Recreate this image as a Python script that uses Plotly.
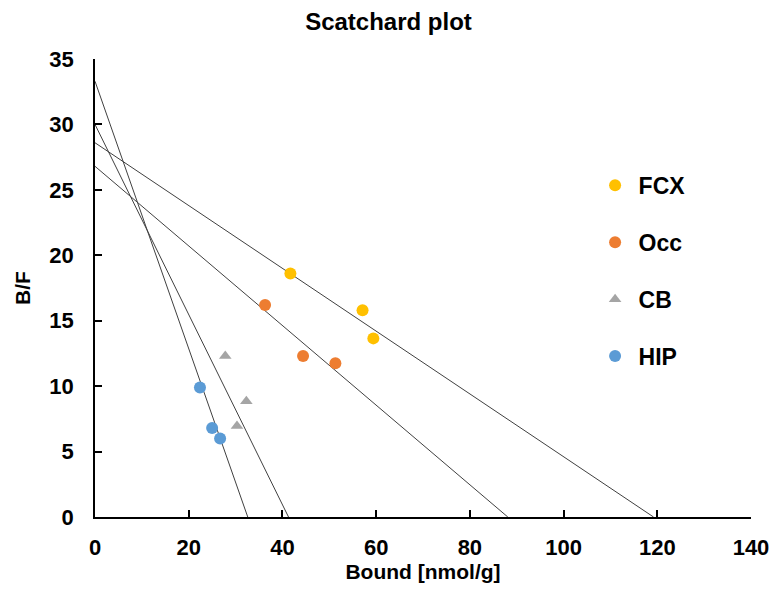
import plotly.graph_objects as go

series_names = ["FCX", "Occ", "CB", "HIP"]
series_colors = ["#FFC000", "#ED7D31", "#A5A5A5", "#5B9BD5"]
series_symbols = ["circle", "circle", "triangle-up", "circle"]

fcx_bound = [41.7, 57.1, 59.4]
fcx_bf = [18.6, 15.8, 13.65]
occ_bound = [36.3, 44.4, 51.3]
occ_bf = [16.2, 12.3, 11.75]
cb_bound = [27.8, 32.3, 30.3]
cb_bf = [12.3, 8.85, 6.95]
hip_bound = [22.4, 25.0, 26.7]
hip_bf = [9.9, 6.8, 6.0]

# regression lines: y-intercept (B/F at Bound=0) and x-intercept (Bmax)
line_y_intercepts = [28.6, 26.8, 30.0, 33.3]
line_x_intercepts = [119.2, 88.1, 41.3, 32.6]

x_ticks = [0, 20, 40, 60, 80, 100, 120, 140]
y_ticks = [0, 5, 10, 15, 20, 25, 30, 35]

bounds = [fcx_bound, occ_bound, cb_bound, hip_bound]
bfs = [fcx_bf, occ_bf, cb_bf, hip_bf]

fig = go.Figure()

for yi, xi in zip(line_y_intercepts, line_x_intercepts):
    fig.add_trace(go.Scatter(x=[0, xi], y=[yi, 0], mode="lines",
                             line=dict(color="#404040", width=1),
                             showlegend=False, hoverinfo="skip"))

for i, name in enumerate(series_names):
    fig.add_trace(go.Scatter(
        x=bounds[i], y=bfs[i], mode="markers", name=name,
        legendgroup=name,
        marker=dict(color=series_colors[i], symbol=series_symbols[i],
                    size=12 if series_symbols[i] == "circle" else 11),
    ))

font_family = "Liberation Sans, Arial, sans-serif"

fig.update_layout(
    width=777, height=594,
    margin=dict(l=95, r=26, t=59, b=77),
    paper_bgcolor="white", plot_bgcolor="white",
    title=dict(text="Scatchard plot", x=0.5, xanchor="center", y=0.963, yanchor="middle",
               font=dict(family=font_family, size=24, color="black", weight="bold")),
    font=dict(family=font_family, color="black"),
    legend=dict(x=0.757, y=0.771, xanchor="left", yanchor="top",
                tracegroupgap=24, itemwidth=37,
                font=dict(family=font_family, size=23, color="black", weight="bold"),
                bgcolor="rgba(0,0,0,0)"),
    xaxis=dict(range=[0, 140], tickvals=x_ticks, ticks="inside", ticklen=7,
               tickcolor="black", tickwidth=1.5, showline=True, linecolor="black", linewidth=1.5,
               showgrid=False, zeroline=False, automargin=False,
               ticklabelstandoff=10,
               tickfont=dict(family=font_family, size=22, weight="bold"),
               title=dict(text="Bound [nmol/g]", standoff=4,
                          font=dict(family=font_family, size=21, weight="bold"))),
    yaxis=dict(range=[0, 35], tickvals=y_ticks, ticks="inside", ticklen=7,
               tickcolor="black", tickwidth=1.5, showline=True, linecolor="black", linewidth=1.5,
               showgrid=False, zeroline=False, automargin=False,
               ticklabelstandoff=15,
               tickfont=dict(family=font_family, size=22, weight="bold"),
               title=dict(text="B/F", standoff=13,
                          font=dict(family=font_family, size=21, weight="bold"))),
)

fig.write_html("out.html", config={"displayModeBar": False},
               post_script="document.body.style.margin='0';")
